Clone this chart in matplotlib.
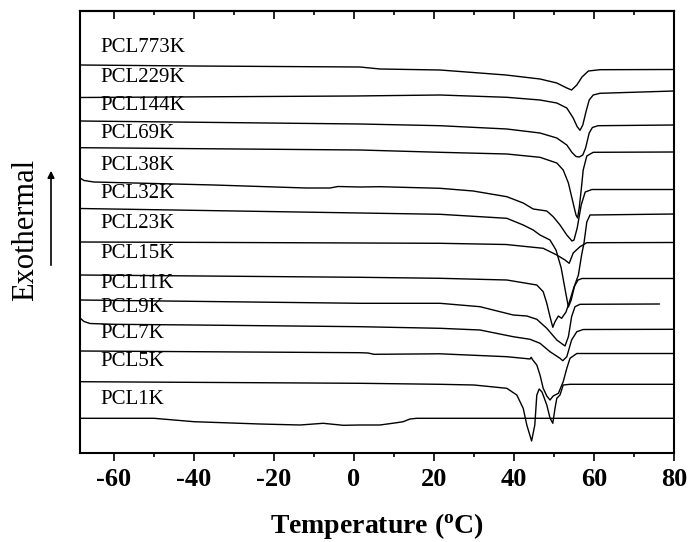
import matplotlib
matplotlib.use('Agg')
import matplotlib.pyplot as plt
from matplotlib.ticker import MultipleLocator

plt.rcParams['font.family'] = ['Liberation Serif', 'DejaVu Serif']
plt.rcParams['mathtext.fontset'] = 'custom'
plt.rcParams['mathtext.rm'] = 'Liberation Serif'
plt.rcParams['mathtext.bf'] = 'Liberation Serif:bold'
plt.rcParams['axes.unicode_minus'] = False

# DSC heating traces, stacked with an offset (endothermic downwards)
# temperature in C, q = offset heat flow (a.u., axis inverted)
t_773k = [-68.5, -40, 1.5, 6.5, 21.5, 38, 46.5, 50.7, 53.2, 54.4, 55.7, 57.0, 58.6, 61.5, 80]
q_773k = [65, 66, 67, 69, 70, 75, 79, 83, 88, 90, 85, 77, 71, 69.7, 69.5]

t_229k = [-68.5, 0, 21.5, 38.2, 46.5, 50.7, 53.2, 54.8, 55.8, 56.5, 57.2, 58.0, 58.8, 59.8, 61.5, 80]
q_229k = [97.5, 96, 95, 97.3, 100, 103, 108, 118, 126.7, 130.3, 125, 111.7, 100, 95, 93.3, 91]

t_144k = [-68.5, 1.5, 21.5, 38.2, 46.5, 50.7, 53.2, 54.5, 55.5, 56.3, 57.2, 57.9, 58.8, 59.6, 61, 80]
q_144k = [121, 124, 125.7, 129, 133, 138, 145, 152.5, 156.5, 157, 155, 148, 133, 127.5, 125.7, 125]

t_69k = [-68.5, 1.5, 21.5, 38.2, 46.5, 50.7, 52.3, 53.6, 54.7, 55.5, 55.9, 56.3, 56.8, 57.3, 58.2, 59.8, 80]
q_69k = [147.7, 150, 152.3, 154, 157.3, 163, 170, 183, 201.7, 215, 218, 208, 190, 170, 156, 152.3, 152]

t_38k = [-68.5, -67.5, -65, -50, -35, -12, -6, -4, 1.5, 6.5, 21.5, 29.8, 38.2, 42.3, 44.8, 46.5,
         48.2, 49.8, 51.5, 53.2, 54.5, 55.0, 55.8, 56.8, 57.8, 59.5, 80]
q_38k = [178, 180.5, 182, 183.5, 185, 188, 188, 186.5, 187, 186.7, 188.3, 191, 196.7, 203, 209, 210,
         211, 216.7, 225, 235, 241, 240, 228, 205, 192, 189.5, 189.5]

t_32k = [-68.5, 1.5, 21.5, 38.2, 42.3, 44.8, 46.5, 49.0, 50.5, 51.8, 52.8, 53.6, 54.3, 55.2, 56.1,
         56.9, 57.5, 58.2, 59.0, 80]
q_32k = [208.5, 213, 214.3, 218.3, 225, 230, 235, 240, 250, 268, 290, 307, 300, 285, 275,
         255, 243, 222, 215, 214]

t_23k = [-68.5, -30, 1.5, 21.5, 38, 47.3, 50.7, 52.75, 53.8, 54.8, 56.5, 58.2, 80]
q_23k = [242, 242.5, 243, 243.3, 244.5, 248.3, 255, 260, 263.3, 253, 246.7, 242.7, 242.5]

t_15k = [-68.5, 1.5, 21.5, 38.2, 45.7, 47.3, 48.2, 49.0, 49.7, 50.25, 51.1, 51.9, 53.0, 54.0, 55.0,
         56.0, 57.0, 80]
q_15k = [275, 277.3, 278.3, 280, 285, 291.7, 303.3, 316.7, 327.3, 321.7, 316, 318.3, 312, 300, 287,
         280, 278.5, 278.5]

t_11k = [-68.5, 1.5, 21.5, 31.5, 39.8, 43.2, 45.7, 48.2, 50.7, 52.75, 53.6, 54.4, 55.25, 56.5, 76.3]
q_11k = [300, 303.3, 303.3, 306.7, 315, 316, 319.3, 328.3, 340, 346, 336.7, 316.7, 306.7, 304.3, 304]

t_9k = [-68.5, -67.5, -66, -60, -40, 1.5, 21.5, 31.5, 39.8, 44, 46.5, 49, 51.5, 52.2, 53.2, 54.4,
        55.7, 57.3, 80]
q_9k = [318, 321.5, 323.5, 324.3, 325, 326.7, 328.3, 330, 336.7, 339.3, 343.3, 351.7, 358.3, 360.7,
        356.7, 340, 331.7, 329.5, 329.3]

t_7k = [-68.5, 1.5, 3.5, 5.0, 21.5, 38.2, 42.3, 44.0, 44.3, 44.6, 45.7, 46.5, 47.3, 48.2, 49.0, 49.8,
        51.1, 52.3, 53.2, 54.0, 55.7, 80]
q_7k = [351, 352.7, 353, 354.3, 353.8, 356.7, 358.3, 359, 357.3, 359.5, 365, 375, 388.3, 396, 400, 396,
        393.3, 381.7, 368.3, 358.3, 353.5, 353.5]

t_5k = [-68.5, 1.5, 21.5, 30, 38.2, 40.7, 42.3, 43.2, 44.4, 45.2, 45.7, 46.3, 47.0, 48.2, 49.0, 49.7,
        50.25, 50.7, 51.5, 52.3, 54, 80]
q_5k = [381.7, 383.3, 384.3, 385, 388.3, 395, 408.3, 425, 441, 425, 395, 389, 392, 405, 418, 423.3,
        408.3, 398.3, 395, 385, 384.3, 384.3]

t_1k = [-68.5, -50, -40, -23.5, -13.5, -7.7, -2.7, 1.5, 6.5, 10.7, 12.3, 14.0, 15.7, 80]
q_1k = [418.3, 418.3, 421.7, 424, 425, 423.3, 425.3, 425, 425, 422.7, 421.7, 419, 418.3, 418.3]

names = ['PCL773K', 'PCL229K', 'PCL144K', 'PCL69K', 'PCL38K', 'PCL32K', 'PCL23K',
         'PCL15K', 'PCL11K', 'PCL9K', 'PCL7K', 'PCL5K', 'PCL1K']
label_y = [48, 78, 106, 133, 166, 193, 223, 253, 283, 308, 334, 362, 400]

curves = [(t_773k, q_773k), (t_229k, q_229k), (t_144k, q_144k), (t_69k, q_69k),
          (t_38k, q_38k), (t_32k, q_32k), (t_23k, q_23k), (t_15k, q_15k),
          (t_11k, q_11k), (t_9k, q_9k), (t_7k, q_7k), (t_5k, q_5k), (t_1k, q_1k)]

fig = plt.figure(figsize=(6.9, 5.42), dpi=100)
ax = fig.add_axes([80 / 690, 1 - 453 / 542, 594 / 690, 442 / 542])

for t, q in curves:
    ax.plot(t, q, color='black', lw=1.0)

for name, y in zip(names, label_y):
    ax.text(-63.3, y, name, fontsize=15, ha='left', va='center')

ax.set_xlim(-68.5, 80)
ax.set_ylim(453, 11)

ax.set_xticks(range(-60, 81, 20))
ax.xaxis.set_minor_locator(MultipleLocator(10))
ax.tick_params(axis='x', which='major', direction='out', length=6, width=1.2, labelsize=19, pad=5)
ax.tick_params(axis='x', which='minor', direction='out', length=3, width=1.2)
for lab in ax.get_xticklabels():
    lab.set_fontweight('bold')
ax.set_yticks([])

top = ax.secondary_xaxis('top')
top.set_xticks(range(-60, 81, 20))
top.xaxis.set_minor_locator(MultipleLocator(10))
top.tick_params(which='major', direction='in', length=6, width=1.2, labeltop=False)
top.tick_params(which='minor', direction='in', length=3, width=1.2)

for sp in ax.spines.values():
    sp.set_linewidth(1.5)
top.spines['top'].set_linewidth(1.5)

ax.set_xlabel(r'Temperature ($\mathbf{^o}$C)', fontsize=20, fontweight='bold', labelpad=14)

fig.text(26 / 690, 1 - 230 / 542, 'Exothermal', rotation=90, fontsize=22,
         ha='center', va='center')
ax.annotate('', xy=(51 / 690, 1 - 168 / 542), xytext=(51 / 690, 1 - 268 / 542),
            xycoords='figure fraction', textcoords='figure fraction',
            arrowprops=dict(arrowstyle='-|>', lw=1.2, color='black', mutation_scale=10))

fig.savefig('out.png', dpi=100)
